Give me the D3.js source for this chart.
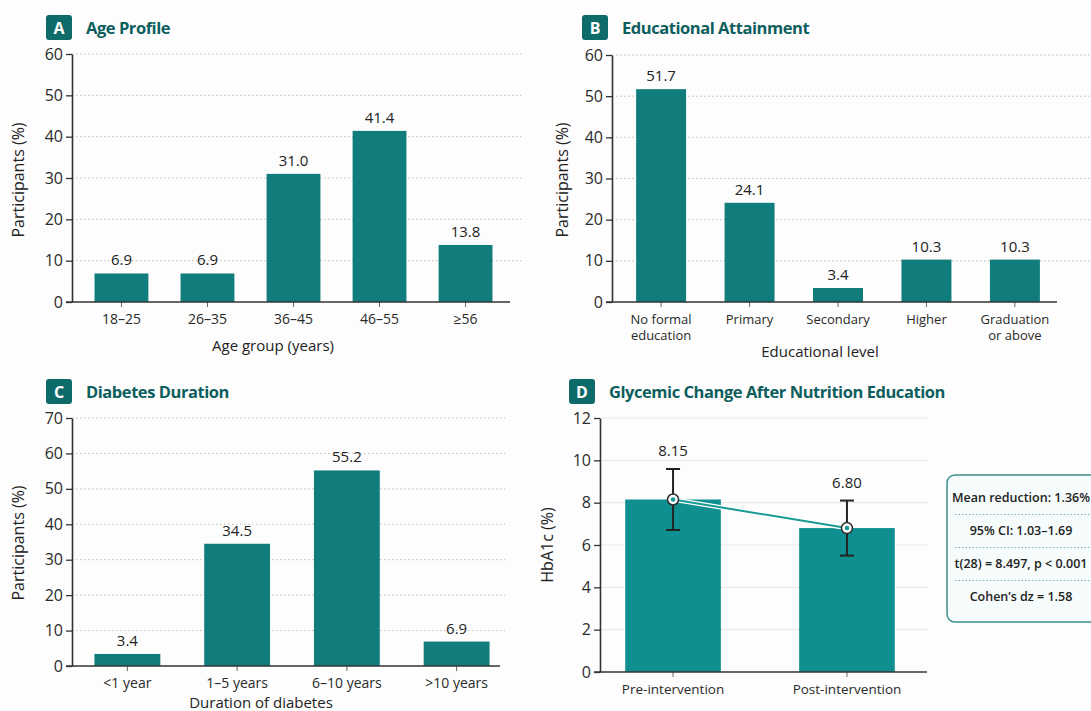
<!DOCTYPE html>
<html><head><meta charset="utf-8">
<script src="https://cdn.jsdelivr.net/npm/d3@7"></script>
<style>
html,body{margin:0;padding:0;background:#fdfdfd;}
svg{display:block;font-family:"Open Sans","Noto Sans",sans-serif;}
</style></head><body>
<svg id="c" width="1091" height="711"></svg>
<script>
// ---- data ----
const ageCats = ["18–25","26–35","36–45","46–55","≥56"];
const ageVals = [6.9, 6.9, 31.0, 41.4, 13.8];
const ageTicks = [0,10,20,30,40,50,60];

const eduCats = ["No formal\neducation","Primary","Secondary","Higher","Graduation\nor above"];
const eduVals = [51.7, 24.1, 3.4, 10.3, 10.3];
const eduTicks = [0,10,20,30,40,50,60];

const durCats = ["<1 year","1–5 years","6–10 years",">10 years"];
const durVals = [3.4, 34.5, 55.2, 6.9];
const durTicks = [0,10,20,30,40,50,60,70];

const glyCats = ["Pre-intervention","Post-intervention"];
const glyMeans = [8.15, 6.80];
const glySD = [1.44, 1.30];
const glyTicks = [0,2,4,6,8,10,12];

const statsLines = ["Mean reduction: 1.36%","95% CI: 1.03–1.69","t(28) = 8.497, p < 0.001","Cohen’s dz = 1.58"];

// ---- styles ----
const barColor = "#117c7c";
const barColorD = "#0f8f8f";
const titleColor = "#0d5e5e";
const badgeColor = "#0f6a6a";
const axisColor = "#333";

const svg = d3.select("#c");

function header(x, y, letter, title){
  svg.append("rect").attr("x",x).attr("y",y).attr("width",26).attr("height",25).attr("rx",3).attr("fill",badgeColor);
  svg.append("text").attr("x",x+13).attr("y",y+19).attr("text-anchor","middle").attr("fill","#fff")
     .attr("font-size",16).attr("font-weight",700).text(letter);
  svg.append("text").attr("x",x+40).attr("y",y+19).attr("fill",titleColor)
     .attr("font-size",16.5).attr("font-weight",700).attr("letter-spacing","-0.45").text(title);
}

function panel(o){
  const g = svg.append("g");
  const y = d3.scaleLinear().domain(o.ydomain).range([o.y0, o.y1]);
  const x = d3.scaleBand().domain(o.cats).range(o.xr).paddingInner(o.pi).paddingOuter(o.po);
  // grid
  g.selectAll("line.grid").data(o.ticks.filter(t=>t>0)).enter().append("line")
    .attr("x1",o.ax).attr("x2",o.gridEnd).attr("y1",d=>y(d)).attr("y2",d=>y(d))
    .attr("stroke", o.solidGrid ? "#e9e9e9" : "#bdbdbd")
    .attr("stroke-width", o.solidGrid ? 1.2 : 1)
    .attr("stroke-dasharray", o.solidGrid ? null : "1.5,2.5");
  // bars
  g.selectAll("rect.bar").data(o.vals).enter().append("rect")
    .attr("x",(d,i)=>x(o.cats[i])).attr("width",x.bandwidth())
    .attr("y",d=>y(d)).attr("height",d=>y(0)-y(d)).attr("fill",o.color);
  // y axis
  const ya = g.append("g").attr("transform",`translate(${o.ax},0)`)
    .call(d3.axisLeft(y).tickValues(o.ticks).tickSize(6).tickSizeOuter(0).tickFormat(d3.format("d")));
  ya.select(".domain").attr("stroke",axisColor).attr("stroke-width",1.6);
  ya.selectAll(".tick line").attr("stroke",axisColor).attr("stroke-width",1.3);
  ya.selectAll(".tick text").attr("font-size",16).attr("fill","#2a2a2a").attr("x",-9)
    .attr("font-family",'"Open Sans",sans-serif');
  // x axis
  const xa = g.append("g").attr("transform",`translate(0,${y(0)})`)
    .call(d3.axisBottom(x).tickSize(5).tickSizeOuter(0));
  xa.select(".domain").remove();
  xa.selectAll(".tick line").attr("stroke","#666").attr("stroke-width",1);
  xa.selectAll(".tick text").remove();
  g.append("line").attr("x1",o.ax-6).attr("x2",o.xEnd).attr("y1",y(0)).attr("y2",y(0))
    .attr("stroke",axisColor).attr("stroke-width",1.6);
  // category labels
  o.cats.forEach(c=>{
    const t = g.append("text").attr("x",x(c)+x.bandwidth()/2).attr("y",y(0)+22)
      .attr("text-anchor","middle").attr("font-size",o.catSize||14).attr("fill","#2a2a2a");
    c.split("\n").forEach((ln,k)=>t.append("tspan").attr("x",x(c)+x.bandwidth()/2).attr("dy",k?16:0).text(ln));
  });
  // x title
  if(o.xtitle) g.append("text").attr("x",o.xtx).attr("y",o.xty).attr("text-anchor","middle")
    .attr("font-size",15).attr("fill","#222").text(o.xtitle);
  // y title
  g.append("text").attr("transform",`translate(${o.ytx},${o.yty}) rotate(-90)`).attr("text-anchor","middle")
    .attr("font-size",16).attr("fill","#222").text(o.ytitle);
  // value labels
  if(o.labels!==false){
    g.selectAll("text.val").data(o.vals).enter().append("text")
      .attr("x",(d,i)=>x(o.cats[i])+x.bandwidth()/2).attr("y",d=>y(d)-8)
      .attr("text-anchor","middle").attr("font-size",15).attr("fill","#222").text(d=>d.toFixed(1));
  }
  return {x,y,g};
}

// Panel A
header(46,15,"A","Age Profile");
panel({cats:ageCats, vals:ageVals, ticks:ageTicks, ydomain:[0,60], y0:302, y1:54,
  xr:[75,512], pi:0.374, po:0.227, ax:72, gridEnd:522, xEnd:510, color:barColor,
  xtitle:"Age group (years)", xtx:273, xty:351, ytitle:"Participants (%)", ytx:24, yty:180});

// Panel B
header(582,15,"B","Educational Attainment");
panel({cats:eduCats, vals:eduVals, ticks:eduTicks, ydomain:[0,60], y0:302, y1:55,
  xr:[614,1062], pi:0.435, po:0.25, ax:612, gridEnd:1091, xEnd:1057, color:barColor, catSize:13,
  xtitle:"Educational level", xtx:820, xty:357, ytitle:"Participants (%)", ytx:568, yty:180});

// Panel C
header(46,379,"C","Diabetes Duration");
panel({cats:durCats, vals:durVals, ticks:durTicks, ydomain:[0,70], y0:666, y1:418,
  xr:[78,506], pi:0.4, po:0.15, ax:72, gridEnd:505, xEnd:500, color:barColor,
  xtitle:"Duration of diabetes", xtx:261, xty:708, ytitle:"Participants (%)", ytx:24, yty:543});

// Panel D
header(569,379,"D","Glycemic Change After Nutrition Education");
const pd = panel({cats:glyCats, vals:glyMeans, ticks:glyTicks, ydomain:[0,12], y0:672, y1:418,
  xr:[600,920], pi:0.45, po:0.145, ax:600, gridEnd:928, xEnd:927, color:barColorD, solidGrid:true,
  catSize:13.5, labels:false, ytitle:"HbA1c (%)", ytx:553, yty:545});
{
  const {x,y,g} = pd;
  const cx = c => x(c)+x.bandwidth()/2;
  // error bars
  glyCats.forEach((c,i)=>{
    const hi = glyMeans[i]+glySD[i], lo = glyMeans[i]-glySD[i];
    g.append("line").attr("x1",cx(c)).attr("x2",cx(c)).attr("y1",y(hi)).attr("y2",y(lo)).attr("stroke","#222").attr("stroke-width",2);
    [hi,lo].forEach(v=>g.append("line").attr("x1",cx(c)-7).attr("x2",cx(c)+7).attr("y1",y(v)).attr("y2",y(v)).attr("stroke","#222").attr("stroke-width",2));
    g.append("text").attr("x",cx(c)).attr("y",y(hi)-13).attr("text-anchor","middle").attr("font-size",15).attr("fill","#222")
      .text(glyMeans[i].toFixed(2));
  });
  const line = d3.line().x((d,i)=>cx(glyCats[i])).y(d=>y(d));
  g.append("path").datum(glyMeans).attr("d",line).attr("fill","none").attr("stroke","#fff").attr("stroke-width",4.5);
  g.append("path").datum(glyMeans).attr("d",line).attr("fill","none").attr("stroke","#1a9a96").attr("stroke-width",2);
  glyMeans.forEach((m,i)=>{
    g.append("circle").attr("cx",cx(glyCats[i])).attr("cy",y(m)).attr("r",5.5).attr("fill","#fff").attr("stroke","#2a2a2a").attr("stroke-width",1.5);
    g.append("circle").attr("cx",cx(glyCats[i])).attr("cy",y(m)).attr("r",2.3).attr("fill","#1a9a96");
  });
}

// Stats box
{
  const bx=947, by=475, bw=170, bh=147;
  svg.append("rect").attr("x",bx).attr("y",by).attr("width",bw).attr("height",bh).attr("rx",8)
    .attr("fill","#f6fbfb").attr("stroke","#3c8f8f").attr("stroke-width",1.5);
  const ys = [498,531,564,597];
  statsLines.forEach((s,i)=>{
    svg.append("text").attr("x",1021).attr("y",ys[i]+4).attr("text-anchor","middle")
      .attr("font-size",12.5).attr("font-weight",600).attr("fill","#222").text(s);
    if(i<3) svg.append("line").attr("x1",955).attr("x2",1091).attr("y1",(ys[i]+ys[i+1])/2).attr("y2",(ys[i]+ys[i+1])/2)
      .attr("stroke","#7fb5b5").attr("stroke-width",1).attr("stroke-dasharray","1.5,2");
  });
}
</script>
</body></html>
